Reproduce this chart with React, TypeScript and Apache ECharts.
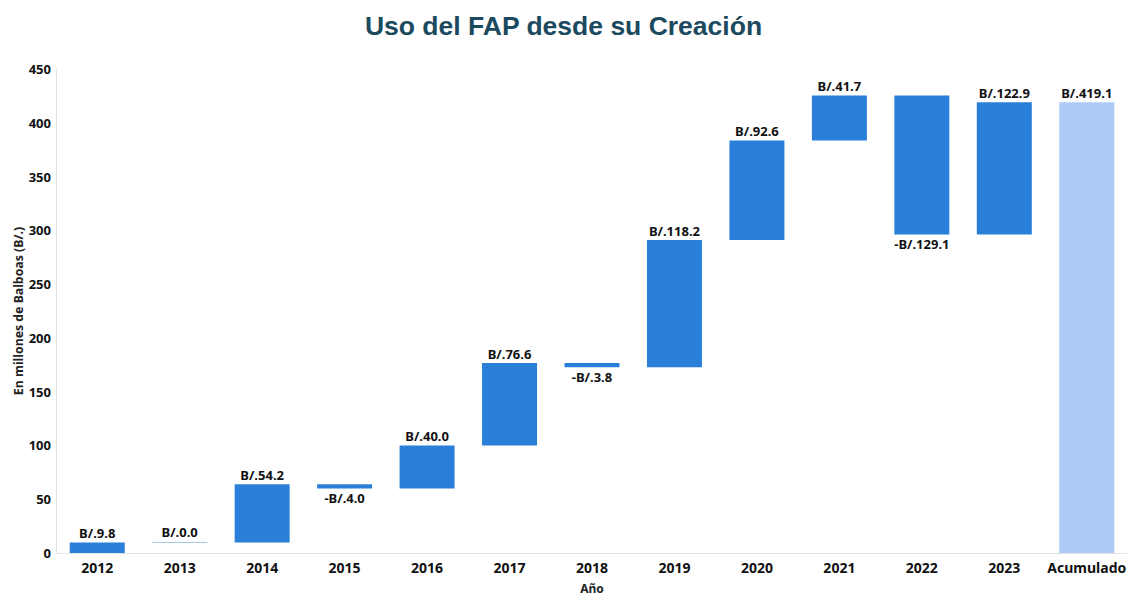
import React, { useEffect, useRef } from "react";
import * as echarts from "echarts";

const categories = ["2012", "2013", "2014", "2015", "2016", "2017", "2018", "2019", "2020", "2021", "2022", "2023", "Acumulado"];
const changes = [9.8, 0.0, 54.2, -4.0, 40.0, 76.6, -3.8, 118.2, 92.6, 41.7, -129.1, 122.9];
const accumulated = 419.1;
const yTicks = { min: 0, max: 450, interval: 50 };

const fmt = (v: number) => (v < 0 ? "-B/." : "B/.") + Math.abs(v).toFixed(1);

export default function App() {
  const ref = useRef<HTMLDivElement>(null);
  useEffect(() => {
    if (!ref.current) return;
    const chart = echarts.init(ref.current, null, { renderer: "svg" });
    const base: number[] = [];
    const vals: any[] = [];
    let cum = 0;
    changes.forEach((d) => {
      const next = cum + d;
      base.push(Math.min(cum, next));
      const item: any = {
        value: Math.abs(d),
        label: { position: d < 0 ? "bottom" : "top", formatter: fmt(d) },
      };
      if (d === 0) {
        item.itemStyle = { borderColor: "#a9cbd8", borderWidth: 1 };
      }
      vals.push(item);
      cum = next;
    });
    base.push(0);
    vals.push({
      value: accumulated,
      itemStyle: { color: "#aecbf7" },
      label: { position: "top", formatter: fmt(accumulated) },
    });
    const labelFont = "'Noto Sans', 'Open Sans', sans-serif";
    chart.setOption({
      animation: false,
      title: {
        text: "Uso del FAP desde su Creación",
        left: "center",
        top: 7,
        textStyle: { color: "#1b4a5f", fontSize: 26.5, fontWeight: "bold", fontFamily: "'Liberation Sans', Arial, sans-serif" },
      },
      grid: { left: 56, right: -1, top: 69, bottom: 43, outerBoundsMode: "none", containLabel: false },
      xAxis: {
        type: "category",
        data: categories,
        name: "Año",
        nameLocation: "middle",
        nameGap: 29,
        nameMoveOverlap: false,
        nameTextStyle: { fontSize: 12, fontWeight: "bold", color: "#222", fontFamily: labelFont },
        axisLine: { lineStyle: { color: "#e3e3e3" } },
        axisTick: { show: false },
        axisLabel: { interval: 0, color: "#111", fontSize: 14, fontWeight: "bold", margin: 7, fontFamily: labelFont },
      },
      yAxis: {
        type: "value",
        min: yTicks.min,
        max: yTicks.max,
        interval: yTicks.interval,
        name: "En millones de Balboas (B/.)",
        nameLocation: "middle",
        nameGap: 32,
        nameMoveOverlap: false,
        nameTextStyle: { fontSize: 12.3, fontWeight: "bold", color: "#222", fontFamily: labelFont },
        axisLine: { show: true, lineStyle: { color: "#e3e3e3" } },
        axisTick: { show: false },
        splitLine: { show: false },
        axisLabel: { color: "#111", fontSize: 13, fontWeight: "bold", margin: 5, fontFamily: labelFont },
      },
      series: [
        {
          type: "bar",
          stack: "w",
          data: base,
          itemStyle: { color: "transparent" },
          silent: true,
          barWidth: 55,
        },
        {
          type: "bar",
          stack: "w",
          data: vals,
          barWidth: 55,
          itemStyle: { color: "#2a7fd8" },
          label: {
            show: true,
            color: "#111",
            fontSize: 13,
            fontWeight: "bold",
            fontFamily: labelFont,
            distance: 3,
          },
        },
      ],
    });
    return () => chart.dispose();
  }, []);
  return <div ref={ref} style={{ position: "absolute", left: 0, top: 0, width: 1127, height: 596, background: "#fff" }} />;
}
